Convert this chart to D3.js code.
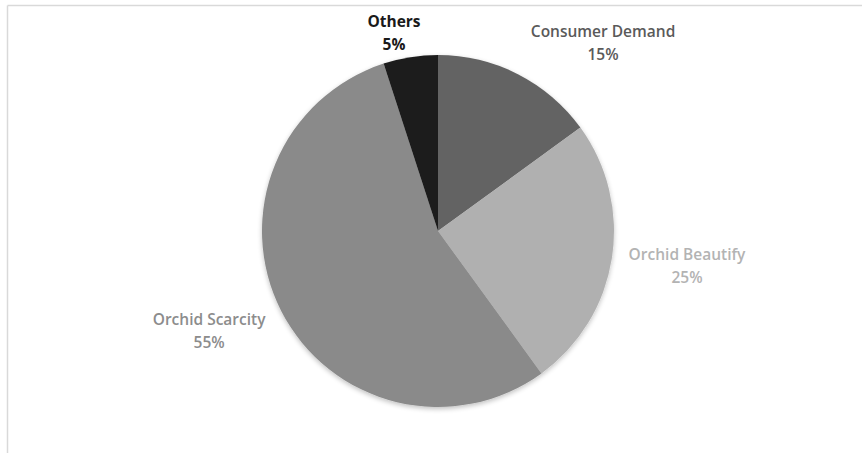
<!DOCTYPE html>
<html>
<head>
<meta charset="utf-8">
<script src="https://cdn.jsdelivr.net/npm/d3@7"></script>
<style>
  html, body { margin: 0; padding: 0; background: #ffffff; }
  svg { display: block; }
  text { font-family: "Open Sans", "Liberation Sans", sans-serif; }
</style>
</head>
<body>
<svg id="chart" width="862" height="453"></svg>
<script>
// Share of factors, in percent
const categories = ["Consumer Demand", "Orchid Beautify", "Orchid Scarcity", "Others"];
const shares = [15, 25, 55, 5];

// Fill per slice and colour of its label
const sliceColors = ["#636363", "#b0b0b0", "#8a8a8a", "#1e1e1e"];
const labelColors = ["#5a5a5a", "#b3b3b3", "#8c8c8c", "#1a1a1a"];
const labelWeights = [600, 600, 600, 700];

// Label placement: angle (degrees clockwise from 12 o'clock) and distance from the centre
const labelAngles = [41.2, 97.9, 246.5, 347.5];
const labelRadii = [250.6, 251.4, 249.6, 203.4];

const width = 862, height = 453;
const cx = 438, cy = 231, radius = 176;
const fontSize = 15.5;

const svg = d3.select("#chart");

// Chart area frame
svg.append("line").attr("x1", 7.5).attr("x2", width).attr("y1", 5.5).attr("y2", 5.5)
  .attr("stroke", "#d9d9d9").attr("stroke-width", 1.5);
svg.append("line").attr("x1", 7.5).attr("x2", 7.5).attr("y1", 5.5).attr("y2", height)
  .attr("stroke", "#d9d9d9").attr("stroke-width", 1.5);

const defs = svg.append("defs");
const soft = defs.append("filter").attr("id", "soft")
  .attr("x", "-10%").attr("y", "-10%").attr("width", "120%").attr("height", "120%");
soft.append("feGaussianBlur").attr("in", "SourceAlpha").attr("stdDeviation", 2.5).attr("result", "b");
soft.append("feOffset").attr("in", "b").attr("dy", 1.5).attr("result", "o");
soft.append("feComponentTransfer").attr("in", "o").attr("result", "s")
  .append("feFuncA").attr("type", "linear").attr("slope", 0.25);
const merge = soft.append("feMerge");
merge.append("feMergeNode").attr("in", "s");
merge.append("feMergeNode").attr("in", "SourceGraphic");

const data = categories.map((c, i) => ({ name: c, value: shares[i], i }));

const pie = d3.pie().sort(null).value(d => d.value);
const arc = d3.arc().innerRadius(0).outerRadius(radius);

const g = svg.append("g").attr("transform", `translate(${cx},${cy})`);

g.append("g").attr("filter", "url(#soft)")
  .selectAll("path")
  .data(pie(data))
  .join("path")
  .attr("d", arc)
  .attr("fill", d => sliceColors[d.data.i]);

const labels = g.selectAll("text.lbl")
  .data(pie(data))
  .join("text")
  .attr("class", "lbl")
  .attr("text-anchor", "middle")
  .attr("font-size", fontSize)
  .attr("font-weight", d => labelWeights[d.data.i])
  .attr("fill", d => labelColors[d.data.i])
  .attr("transform", d => {
    const a = labelAngles[d.data.i] * Math.PI / 180;
    const r = labelRadii[d.data.i];
    return `translate(${r * Math.sin(a)},${-r * Math.cos(a)})`;
  });

labels.append("tspan").attr("x", 0).attr("dy", "-0.35em").text(d => d.data.name);
labels.append("tspan").attr("x", 0).attr("dy", "1.5em").text(d => d.data.value + "%");
</script>
</body>
</html>
